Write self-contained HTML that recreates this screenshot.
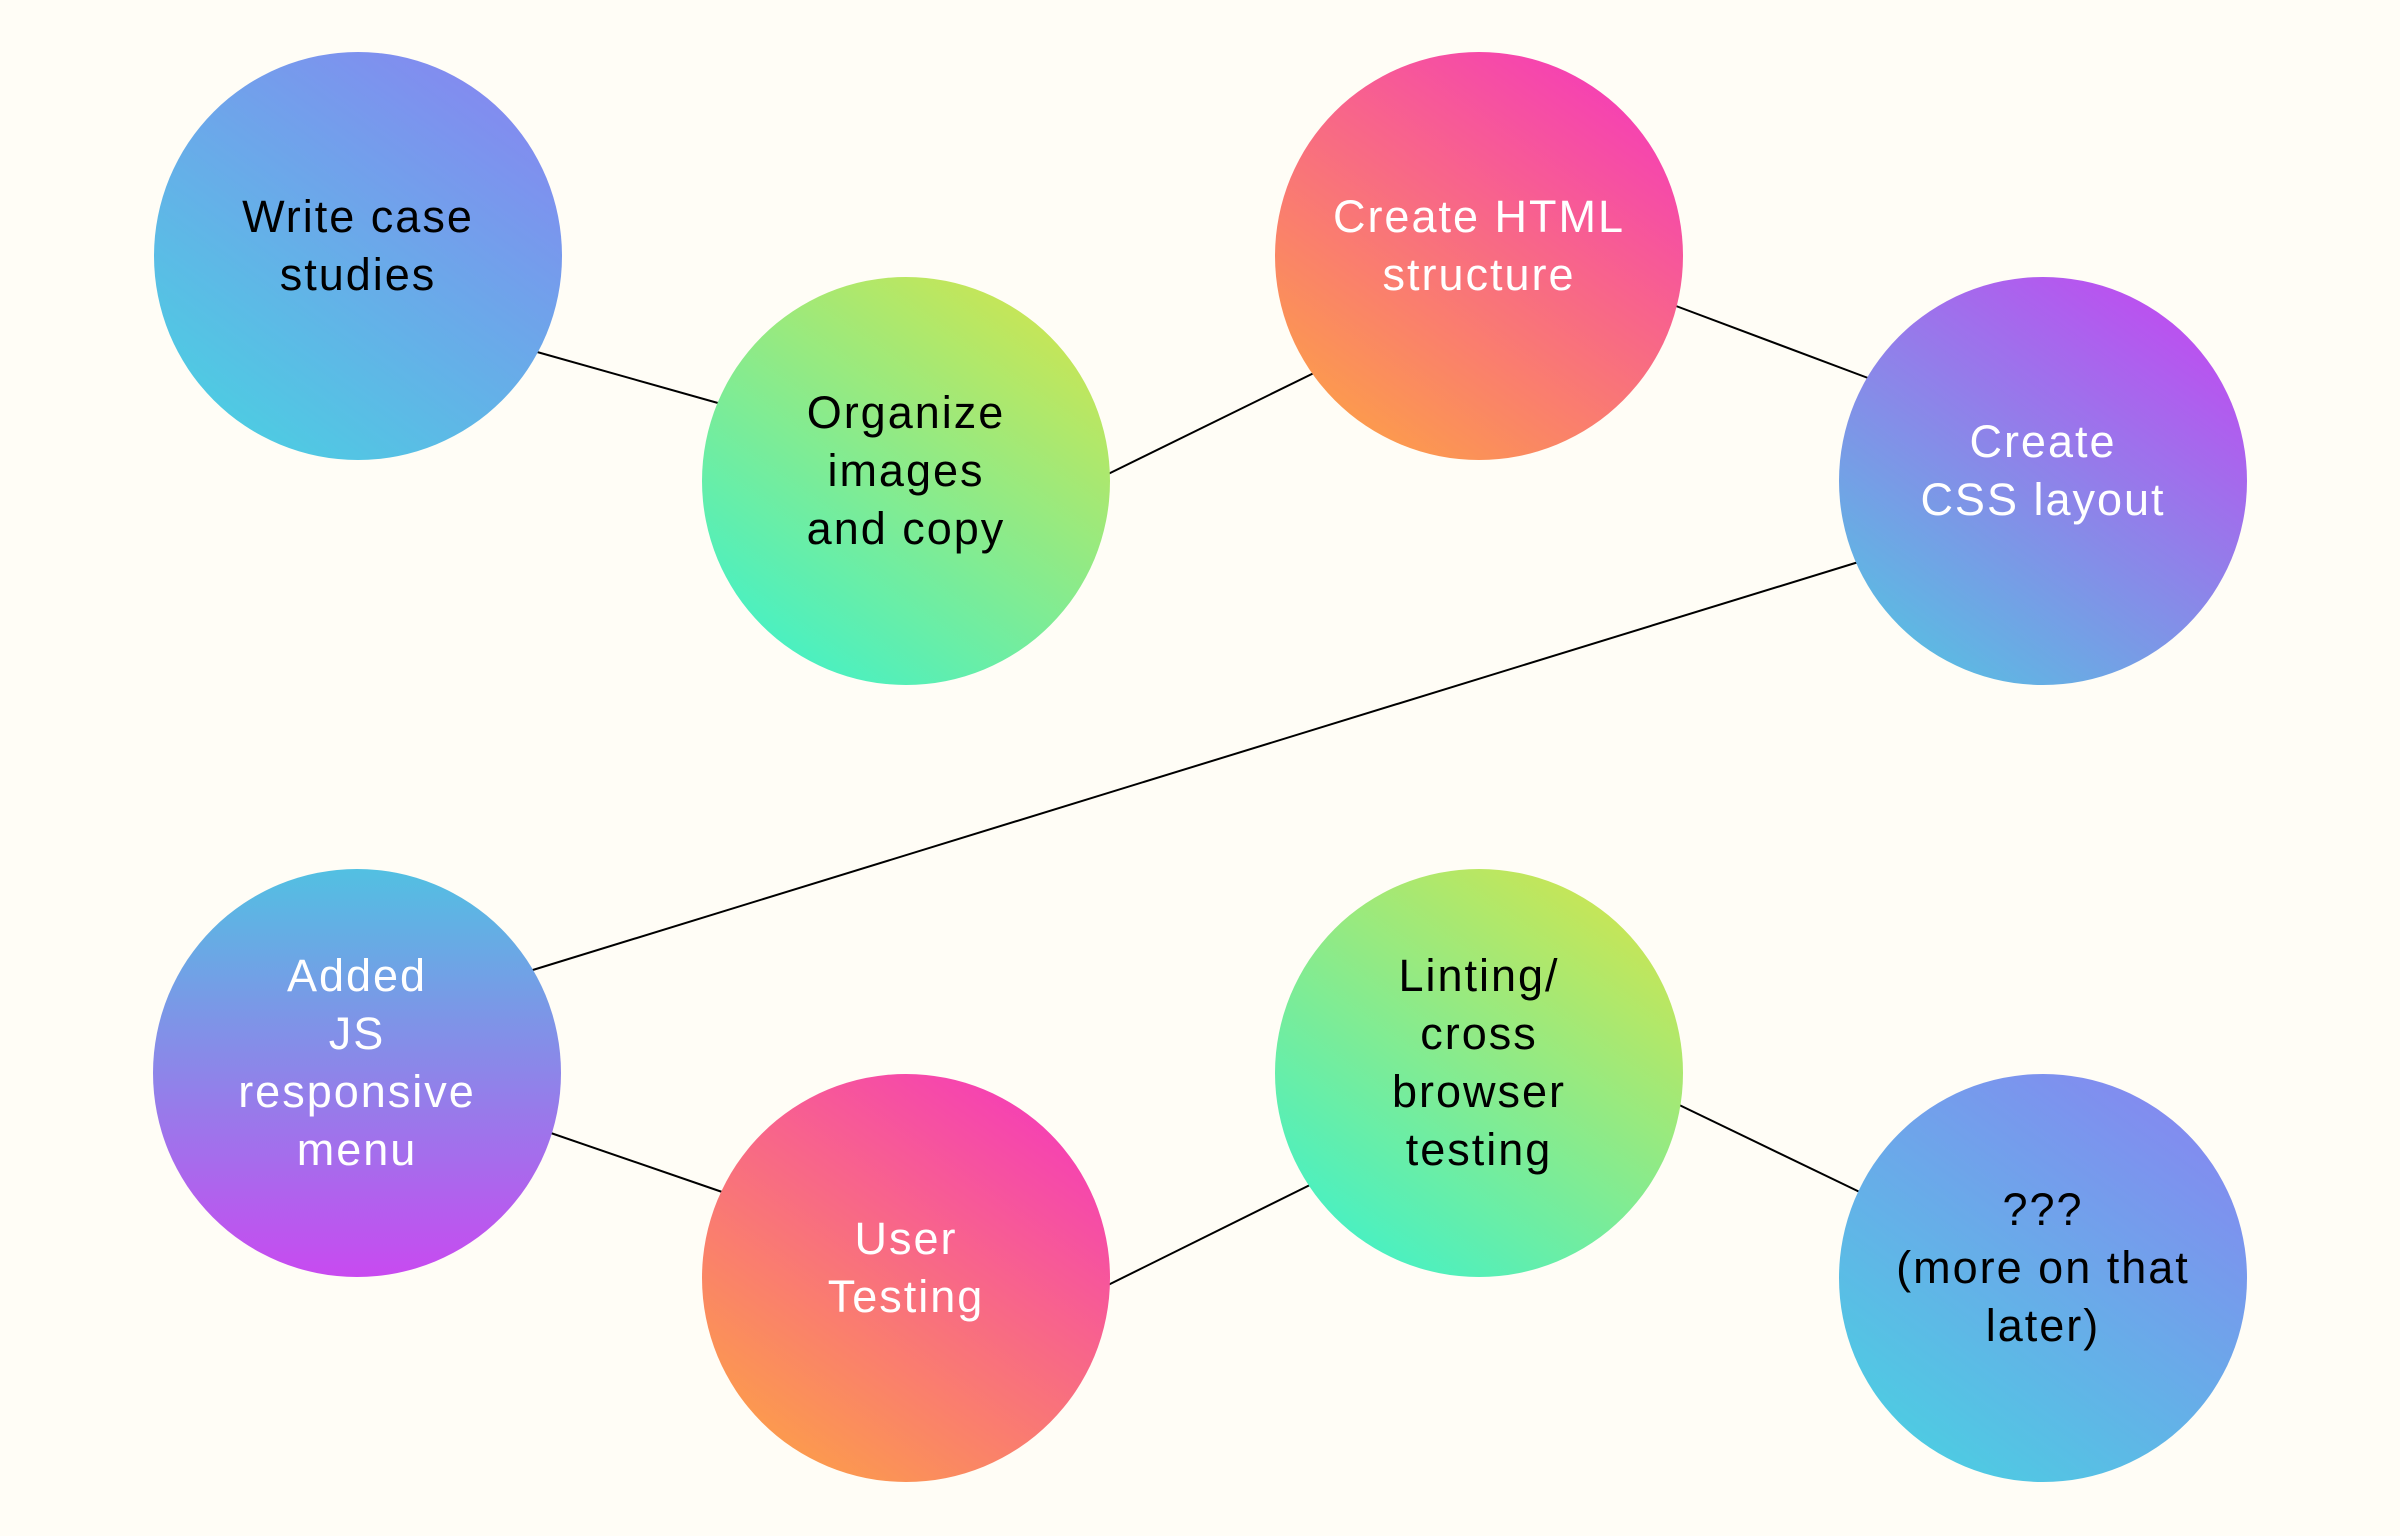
<!DOCTYPE html>
<html><head><meta charset="utf-8"><style>
html,body{margin:0;padding:0;background:#fffdf6;}
body{width:2400px;height:1536px;position:relative;overflow:hidden;font-family:"Liberation Sans",sans-serif;}
svg{position:absolute;left:0;top:0;}
.c{position:absolute;width:408px;height:408px;border-radius:50%;display:flex;align-items:center;justify-content:center;text-align:center;font-size:45px;line-height:58px;letter-spacing:2px;}
.c span{position:relative;top:-10px}
.w{color:#fff}.b{color:#000}
</style></head><body>
<svg width="2400" height="1536">
<g stroke="#000" stroke-width="2">
<line x1="530" y1="350" x2="725" y2="405"/>
<line x1="1100" y1="478" x2="1320" y2="370"/>
<line x1="1668" y1="303" x2="1876" y2="381"/>
<line x1="1865" y1="560" x2="523" y2="973"/>
<line x1="545" y1="1131" x2="728" y2="1194"/>
<line x1="1102" y1="1288" x2="1318" y2="1181"/>
<line x1="1671" y1="1101" x2="1868" y2="1196"/>
</g></svg>
<div class="c b" style="left:154px;top:52px;background:linear-gradient(35deg,#45d6e0,#8c80f2)"><span>Write case<br>studies</span></div>
<div class="c b" style="left:702px;top:277px;background:linear-gradient(35deg,#34f2d4,#dce445)"><span>Organize<br>images<br>and copy</span></div>
<div class="c w" style="left:1275px;top:52px;background:linear-gradient(35deg,#fdaa3c,#f432c4)"><span>Create HTML<br>structure</span></div>
<div class="c w" style="left:1839px;top:277px;background:linear-gradient(35deg,#4ccce0,#cc3ef2)"><span>Create<br>CSS layout</span></div>
<div class="c w" style="left:153px;top:869px;background:linear-gradient(180deg,#52c0e2,#c84af0)"><span>Added<br>JS<br>responsive<br>menu</span></div>
<div class="c w" style="left:702px;top:1074px;background:linear-gradient(35deg,#fdaa3c,#f432c4)"><span>User<br>Testing</span></div>
<div class="c b" style="left:1275px;top:869px;background:linear-gradient(35deg,#34f2d4,#dce445)"><span>Linting/<br>cross<br>browser<br>testing</span></div>
<div class="c b" style="left:1839px;top:1074px;background:linear-gradient(35deg,#45d6e0,#8c80f2)"><span>???<br>(more on that<br>later)</span></div>
</body></html>
